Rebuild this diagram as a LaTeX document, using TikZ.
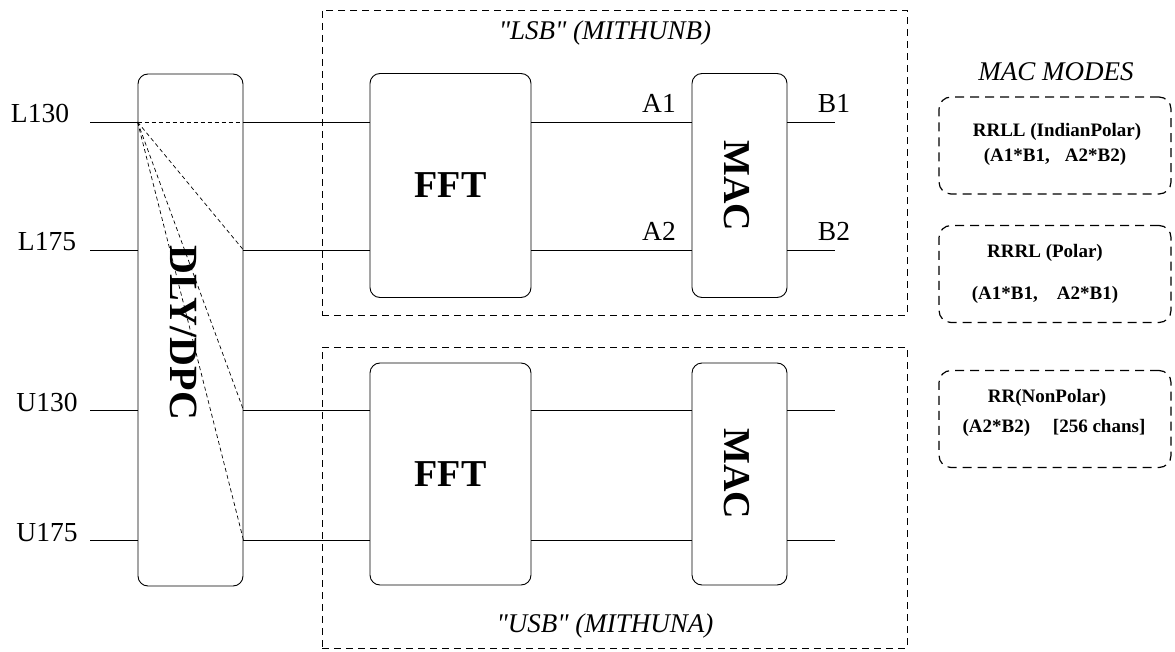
\documentclass[tikz,border=0pt]{standalone}
\usepackage{fontspec}
\setmainfont{Liberation Serif}[Ligatures=TeXOff]
\usetikzlibrary{positioning}

\begin{document}
\begin{tikzpicture}[x=1pt, y=-1pt,
    blk/.style={draw, rounded corners=10pt, line width=0.9pt, inner sep=0pt},
    band/.style={draw, dash pattern=on 7pt off 5pt, line width=0.8pt, inner sep=0pt},
    mode/.style={draw, rounded corners=12pt, dash pattern=on 9pt off 6pt, line width=1.2pt,
                 minimum width=232pt, minimum height=97pt, inner sep=0pt},
    sig/.style={line width=0.9pt},
    tap/.style={dash pattern=on 4pt off 3pt, line width=0.7pt},
    port/.style={font=\fontsize{27.5}{32}\selectfont, anchor=base},
    big/.style={font=\fontsize{38}{44}\selectfont\bfseries},
    hdr/.style={font=\fontsize{27}{32}\selectfont\itshape},
    txt/.style={font=\fontsize{19}{22}\selectfont\bfseries}]
    \useasboundingbox (0,0) rectangle (1175,652);

    % the two sideband groups
    \node[band, minimum width=585pt, minimum height=305pt] (lsb) at (614.5,162.5) {};
    \node[band, minimum width=585pt, minimum height=301pt] (usb) at (614.5,497.5) {};
    \node[hdr] (lsbname) at (605,33) {"LSB" (MITHUNB)};
    \node[hdr] (usbname) at (605,626) {"USB" (MITHUNA)};

    % blocks
    \node[blk, minimum width=105pt, minimum height=512pt] (dly) at (190.5,330) {};
    \node[big, rotate=-90, font=\fontsize{40}{46}\selectfont\bfseries] (dlyname) at (184,333) {DLY/DPC};
    \node[blk, minimum width=161pt, minimum height=224pt] (fftL) at (450.5,185.5) {};
    \node[blk, minimum width=161pt, minimum height=222pt] (fftU) at (450.5,474) {};
    \node[blk, minimum width=95pt, minimum height=224pt] (macL) at (739.5,185.5) {};
    \node[blk, minimum width=95pt, minimum height=222pt] (macU) at (739.5,474) {};
    \node[big] (fftLname) at (fftL) {FFT};
    \node[big] (fftUname) at (fftU) {FFT};
    \node[big, rotate=-90] (macLname) at (737,186) {MAC};
    \node[big, rotate=-90] (macUname) at (737,474) {MAC};

    % inputs and signal paths
    \foreach \n/\y/\lab/\lx in {La/122/L130/40, Lb/250/L175/47, Ua/410/U130/47, Ub/540/U175/47} {
        \coordinate (in\n) at (90,\y);
        \coordinate (out\n) at (835,\y);
        \node[port] (lab\n) at (\lx,\y+1) {\lab};
    }
    \foreach \n/\f/\m in {La/fftL/macL, Lb/fftL/macL, Ua/fftU/macU, Ub/fftU/macU} {
        \draw[sig] (in\n) -- (in\n -| dly.west);
        \draw[sig] (in\n -| dly.east) -- (in\n -| \f.west);
        \draw[sig] (in\n -| \f.east) -- (in\n -| \m.west);
        \draw[sig] (in\n -| \m.east) -- (out\n);
    }

    % delay taps
    \coordinate (tap) at (inLa -| dly.west);
    \foreach \n in {La, Lb, Ua, Ub}
        \draw[tap] (tap) -- (in\n -| dly.east);

    % MAC ports
    \node[port] (a1) at (659,113) {A1};
    \node[port] (a2) at (659,241) {A2};
    \node[port] (b1) at (834,113) {B1};
    \node[port] (b2) at (834,241) {B2};

    % MAC modes
    \node[hdr] (modes) at (1056,72) {MAC MODES};
    \node[mode] (m1) at (1055,145.5) {};
    \node[mode] (m2) at (1055,274) {};
    \node[mode] (m3) at (1055,419) {};
    \node[txt] (m1a) at (1057,132) {RRLL (IndianPolar)};
    \node[txt] (m1b) at (1055,157) {(A1*B1,\hspace{0.8em}A2*B2)};
    \node[txt] (m2a) at (1045,253) {RRRL (Polar)};
    \node[txt] (m2b) at (1045,295) {(A1*B1,\hspace{1em}A2*B1)};
    \node[txt] (m3a) at (1047,398) {RR(NonPolar)};
    \node[txt] (m3b) at (1054,428) {(A2*B2)\hspace{1.2em}[256 chans]};
\end{tikzpicture}
\end{document}
